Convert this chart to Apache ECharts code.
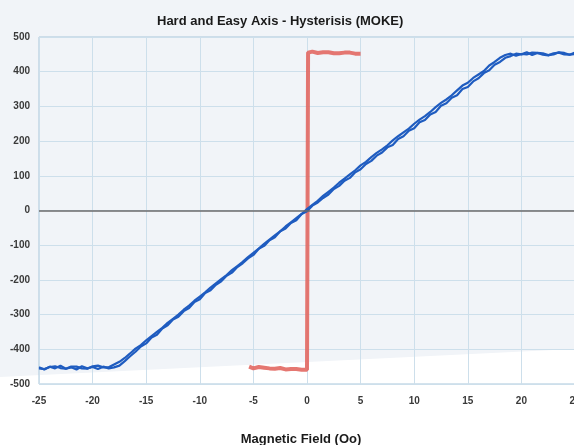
<!DOCTYPE html>
<html>
<head>
<meta charset="utf-8">
<script src="https://cdn.jsdelivr.net/npm/echarts@6/dist/echarts.min.js"></script>
<style>
html,body{margin:0;padding:0;background:#f1f4f8;}
#c{width:574px;height:445px;}
</style>
</head>
<body>
<div id="c"></div>
<script>
var xTicks = [-25,-20,-15,-10,-5,0,5,10,15,20,25];
var yTicks = [-500,-400,-300,-200,-100,0,100,200,300,400,500];

// Hard axis, increasing field branch
var hardUpX = [-25,-24.5,-24,-23.5,-23,-22.5,-22,-21.5,-21,-20.5,-20,-19.5,-19,-18.5,-18,-17.5,-17,-16.5,-16,-15.5,-15,-14.5,-14,-13.5,-13,-12.5,-12,-11.5,-11,-10.5,-10,-9.5,-9,-8.5,-8,-7.5,-7,-6.5,-6,-5.5,-5,-4.5,-4,-3.5,-3,-2.5,-2,-1.5,-1,-0.5,0,0.5,1,1.5,2,2.5,3,3.5,4,4.5,5,5.5,6,6.5,7,7.5,8,8.5,9,9.5,10,10.5,11,11.5,12,12.5,13,13.5,14,14.5,15,15.5,16,16.5,17,17.5,18,18.5,19,19.5,20,20.5,21,21.5,22,22.5,23,23.5,24,24.5,25];
var hardUpY = [-452,-458,-450,-455,-447,-456,-452,-458,-449,-455,-451,-457,-450,-455,-452,-447,-434,-420,-407,-392,-383,-366,-358,-340,-331,-314,-306,-290,-281,-264,-256,-238,-230,-214,-204,-188,-179,-163,-152,-138,-128,-110,-102,-86,-77,-60,-52,-36,-28,-10,-2,14,23,36,46,62,71,86,94,110,119,134,143,158,167,182,189,206,214,230,237,254,261,277,284,302,309,325,332,350,356,372,381,396,404,420,428,440,445,452,450,456,448,454,453,448,450,456,454,449,451];

// Hard axis, decreasing field branch
var hardDownX = [25,24.5,24,23.5,23,22.5,22,21.5,21,20.5,20,19.5,19,18.5,18,17.5,17,16.5,16,15.5,15,14.5,14,13.5,13,12.5,12,11.5,11,10.5,10,9.5,9,8.5,8,7.5,7,6.5,6,5.5,5,4.5,4,3.5,3,2.5,2,1.5,1,0.5,0,-0.5,-1,-1.5,-2,-2.5,-3,-3.5,-4,-4.5,-5,-5.5,-6,-6.5,-7,-7.5,-8,-8.5,-9,-9.5,-10,-10.5,-11,-11.5,-12,-12.5,-13,-13.5,-14,-14.5,-15,-15.5,-16,-16.5,-17,-17.5,-18,-18.5,-19,-19.5,-20,-20.5,-21,-21.5,-22,-22.5,-23,-23.5,-24,-24.5,-25];
var hardDownY = [455,449,450,455,453,447,449,454,455,450,451,446,452,448,440,428,418,402,392,382,368,360,346,332,320,310,298,284,272,262,250,236,225,214,202,188,176,166,154,140,130,116,104,92,80,66,54,42,28,16,4,-10,-22,-34,-46,-60,-72,-84,-96,-110,-122,-134,-148,-160,-172,-186,-198,-210,-222,-236,-248,-260,-274,-286,-300,-312,-324,-338,-350,-362,-374,-388,-398,-412,-425,-436,-444,-452,-452,-447,-449,-456,-455,-450,-450,-456,-454,-449,-451,-457,-455];

// Easy axis square loop
var easyX = [-5.4,-5,-4.5,-4,-3.5,-3,-2.5,-2,-1.5,-1,-0.5,0,0.1,0.1,0.5,1,1.5,2,2.5,3,3.5,4,4.5,5];
var easyY = [-450,-455,-451,-453,-455,-456,-454,-458,-457,-457,-459,-459,-456,455,458,454,456,456,453,453,455,455,452,452];

function zip(a,b){var r=[];for(var i=0;i<a.length;i++)r.push([a[i],b[i]]);return r;}

var chart = echarts.init(document.getElementById('c'), null, {renderer:'canvas'});
var lblFont = {fontFamily:'Liberation Sans', fontWeight:'bold', fontSize:10, color:'#3a3a3a'};
chart.setOption({
  backgroundColor:'#f1f4f8',
  animation:false,
  title:{
    text:'Hard and Easy Axis - Hysterisis (MOKE)',
    left:152, top:10,
    textStyle:{fontFamily:'Liberation Sans', fontWeight:'bold', fontSize:13, color:'#1a1a1a'}
  },
  graphic:[{
    type:'polygon', z:-10, silent:true,
    shape:{points:[[0,377],[574,349],[574,445],[0,445]]},
    style:{fill:'#ffffff'}
  }],
  grid:{left:39, top:37, width:536, height:347, outerBoundsMode:'none', containLabel:false,
        show:true, borderColor:'#a9c6da', borderWidth:1, backgroundColor:'transparent'},
  xAxis:{
    type:'value', min:xTicks[0], max:xTicks[xTicks.length-1], interval:5,
    name:'Magnetic Field (Oo)', nameLocation:'middle', nameGap:49,
    nameTextStyle:{fontFamily:'Liberation Sans', fontWeight:'bold', fontSize:13, color:'#1a1a1a', padding:[0,12,0,0]},
    axisLine:{show:false}, axisTick:{show:false},
    axisLabel:Object.assign({margin:12}, lblFont),
    splitLine:{show:true, lineStyle:{color:'#cddfeb', width:1}}
  },
  yAxis:{
    type:'value', min:yTicks[0], max:yTicks[yTicks.length-1], interval:100,
    axisLine:{show:false}, axisTick:{show:false},
    axisLabel:Object.assign({margin:9}, lblFont),
    splitLine:{show:true, lineStyle:{color:'#cddfeb', width:1}}
  },
  series:[
    {type:'line', data:zip(hardUpX,hardUpY), showSymbol:false, lineStyle:{color:'#1f5cc0', width:2.2}, z:3,
     markLine:{silent:true, symbol:'none', label:{show:false}, lineStyle:{color:'#6b6b6b', width:1.5, type:'solid'}, data:[{yAxis:0}]}},
    {type:'line', data:zip(hardDownX,hardDownY), showSymbol:false, lineStyle:{color:'#1f5cc0', width:2.2}, z:3},
    {type:'line', data:zip(easyX,easyY), showSymbol:false, lineStyle:{color:'rgba(226,104,98,0.9)', width:4}, z:2}
  ]
});
</script>
</body>
</html>
